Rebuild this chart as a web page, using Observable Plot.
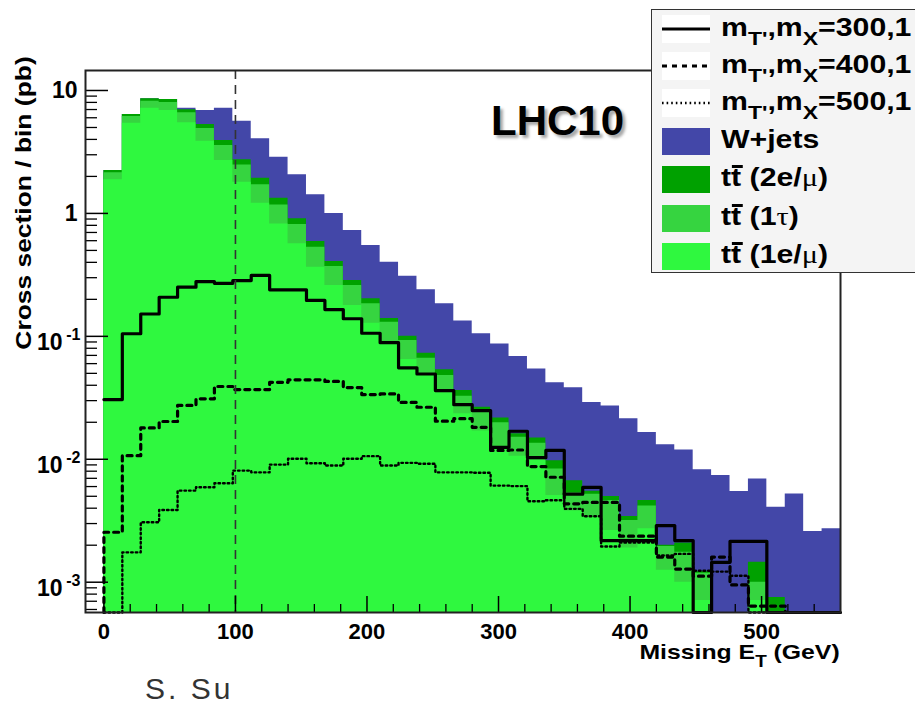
<!DOCTYPE html>
<html><head><meta charset="utf-8">
<script src="https://cdn.jsdelivr.net/npm/d3@7"></script>
<script src="https://cdn.jsdelivr.net/npm/@observablehq/plot@0.6"></script>
<style>
body{margin:0;background:#fff;}
#wrap{position:relative;width:915px;height:704px;overflow:hidden;font-family:"Liberation Sans",Arial,sans-serif;background:#fff;}
#wrap svg{position:absolute;left:0;top:0;}
.abs{position:absolute;white-space:nowrap;}
#legend{position:absolute;left:651px;top:9px;width:300px;height:264px;background:#f4f4f4;border:1.5px solid #333;box-sizing:border-box;}
.sym{position:absolute;left:10px;width:48px;}
.lt{position:absolute;left:69px;font-weight:bold;font-size:25px;line-height:30px;white-space:nowrap;transform:scaleX(1.21);transform-origin:left center;}
.lt sub{font-size:19px;vertical-align:-9px;line-height:0;}
.gr{font-family:"Liberation Serif","DejaVu Serif",serif;font-weight:normal;}
.tb{position:relative;display:inline-block;}
.tb i{position:absolute;left:1px;right:-1px;top:3px;height:2.5px;background:#000;}
</style></head><body><div id="wrap"></div>
<script>
// bin lower edges (GeV), width 14 GeV
const binStart = [0,14,28,42,56,70,84,98,112,126,140,154,168,182,196,210,224,238,252,266,280,294,308,322,336,350,364,378,392,406,420,434,448,462,476,490,504,518,532,546];
const binWidth = 14;
// stacked backgrounds (pb / bin), bottom to top
const ttLep   = [1.88,5.42,7.18,6.87,5.46,3.87,2.69,1.79,1.21,0.822,0.566,0.365,0.259,0.178,0.128,0.0896,0.0647,0.0486,0.0347,0.0235,0.0170,0.0121,0.0106,0.0098,0.00507,0.0038,0.00337,0.00263,0.0019,0.00272,0.00125,0.0010,0.00071,0,0,0.00071,0,0,0,0];
const ttTau   = [0.26,0.72,1.00,1.11,1.12,1.04,0.88,0.69,0.50,0.348,0.247,0.166,0.111,0.081,0.056,0.0404,0.0278,0.0178,0.0133,0.0091,0.0071,0.0077,0.0045,0.0037,0.00328,0.00155,0.00183,0.00198,0.00128,0.00144,0.0007,0.00075,0.00047,0,0,0.00029,0,0,0,0];
const ttDilep = [0.09,0.24,0.37,0.47,0.38,0.37,0.35,0.25,0.22,0.16,0.091,0.059,0.036,0.025,0.018,0.010,0.0075,0.0065,0.0054,0.0036,0.0024,0.0019,0.0010,0.0014,0.0014,0.00135,0.0003,0.00037,0.00024,0.00045,0.00005,0.00033,0.00004,0,0,0.00045,0.00075,0,0,0];
const wJets   = [0,0,0,0,0.22,1.59,3.26,2.89,2.11,1.53,1.156,0.83,0.594,0.442,0.346,0.261,0.208,0.166,0.1306,0.0968,0.0785,0.065,0.0524,0.0394,0.0321,0.0314,0.0234,0.0222,0.0179,0.0119,0.0111,0.0098,0.0070,0.00737,0.00546,0.00547,0.00332,0.00523,0.00258,0.00272];
// signals (not stacked)
const sig300 = [0.0306,0.105,0.152,0.208,0.251,0.279,0.270,0.284,0.313,0.239,0.239,0.196,0.165,0.139,0.106,0.0888,0.0555,0.0494,0.0362,0.0278,0.0249,0.0125,0.0169,0.0103,0.0118,0.0052,0.0059,0.00218,0.00218,0.00218,0.00289,0.00218,0,0.00145,0.00215,0.00215,0,0,0,0];
const sig400 = [0.00255,0.0107,0.0180,0.0203,0.0274,0.0310,0.0391,0.0369,0.0369,0.0423,0.0443,0.0443,0.0430,0.0383,0.0336,0.0340,0.0290,0.0265,0.0204,0.0214,0.0182,0.0118,0.0119,0.00873,0.00714,0.00434,0.00446,0.00446,0.00237,0.00237,0.0016,0.00128,0.00112,0.0016,0.00095,0.00064,0.00064,0,0,0];
const sig500 = [0,0.00175,0.00307,0.00387,0.00556,0.00592,0.00638,0.00809,0.00783,0.00905,0.0101,0.00929,0.00889,0.0101,0.0106,0.00889,0.00935,0.0092,0.00783,0.00783,0.00776,0.00611,0.00605,0.00455,0.00464,0.00395,0.00344,0.00195,0.0021,0.0021,0.00165,0.0017,0.00124,0.00122,0.00113,0,0,0,0,0];
// axis ticks
const xTickVals = [0,100,200,300,400,500];
const xTickLabels = ["0","100","200","300","400","500"];
const yTickVals = [10,1,0.1,0.01,0.001];
const yTickBase = ["10","1","10","10","10"];
const yTickExp  = ["","","-1","-2","-3"];
const cutLine = [100];
const stackColors = ["#2ff83f","#36d440","#00a100","#4347a8"];

const FLOOR = 1e-5;
let acc = binStart.map(() => 0);
const stack = [ttLep, ttTau, ttDilep, wJets].map(arr => (acc = acc.map((a, i) => a + arr[i])));
const last = binStart.length - 1;
const edgePts = binStart.map((x, i) => ({x, i})).concat([{x: binStart[last] + binWidth, i: last}]);
const linePts = (sig, fromFloor) => (fromFloor ? [{x: binStart[0], v: FLOOR}] : [])
  .concat(binStart.map((x, i) => ({x, v: Math.max(sig[i], FLOOR)})))
  .concat([{x: binStart[last] + binWidth, v: Math.max(sig[last], FLOOR)}]);

const xMinor = [];
for (let v = 20; v < 560; v += 20) if (v % 100) xMinor.push(v);
const yMinor = [];
for (let e = -4; e <= 1; e++) for (let k = 2; k <= 9; k++) { const v = k * Math.pow(10, e); if (v > 5.67e-4 && v < 14.5) yMinor.push(v); }

const W = 915, H = 704, mL = 85, mR = 75, mT = 70, mB = 92;
const fw = W - mL - mR, fh = H - mT - mB;

const areas = [3, 2, 1, 0].map(k => Plot.areaY(edgePts, {
  x: "x", y1: FLOOR, y2: d => Math.max(stack[k][d.i], FLOOR), curve: "step-after", fill: stackColors[k]
}));

const plot = Plot.plot({
  width: W, height: H,
  marginLeft: mL, marginRight: mR, marginTop: mT, marginBottom: mB,
  x: {domain: [-14, 560], axis: null},
  y: {type: "log", domain: [5.67e-4, 14.54], clamp: true, axis: null},
  style: {background: "transparent", fontFamily: "Liberation Sans, Arial, sans-serif", overflow: "visible"},
  marks: [
    ...areas,
    Plot.line(linePts(sig300, false), {x: "x", y: "v", curve: "step-after", stroke: "#000", strokeWidth: 3.2}),
    Plot.line(linePts(sig400, true), {x: "x", y: "v", curve: "step-after", stroke: "#000", strokeWidth: 3.2, strokeDasharray: "5,5"}),
    Plot.line(linePts(sig500, true), {x: "x", y: "v", curve: "step-after", stroke: "#000", strokeWidth: 2.4, strokeDasharray: "1.6,3"}),
    Plot.ruleX(cutLine, {stroke: "#333", strokeWidth: 1.6, strokeDasharray: "9,6"}),
    Plot.tickX(xTickVals, {x: d => d, insetTop: fh - 16, stroke: "#000", strokeWidth: 1.5}),
    Plot.tickX(xMinor, {x: d => d, insetTop: fh - 8, stroke: "#000", strokeWidth: 1.3}),
    Plot.tickY(yTickVals, {y: d => d, insetRight: fw - 23, stroke: "#000", strokeWidth: 1.5}),
    Plot.tickY(yMinor, {y: d => d, insetRight: fw - 12, stroke: "#000", strokeWidth: 1.3}),
    Plot.frame({stroke: "#222", strokeWidth: 2}),
    Plot.text(xTickVals, {x: d => d, text: (d, i) => xTickLabels[i], frameAnchor: "bottom", dy: 19, fontSize: 22, fontWeight: "bold", fill: "#000", lineAnchor: "middle"}),
    Plot.text(yTickVals, {filter: (d, i) => yTickExp[i] === "", y: d => d, text: (d, i) => yTickBase[i], frameAnchor: "left", textAnchor: "end", dx: -8, fontSize: 23, fontWeight: "bold", fill: "#000", lineAnchor: "middle"}),
    Plot.text(yTickVals, {filter: (d, i) => yTickExp[i] !== "", y: d => d, text: (d, i) => yTickBase[i], frameAnchor: "left", textAnchor: "end", dx: -23, dy: 6, fontSize: 23, fontWeight: "bold", fill: "#000", lineAnchor: "middle"}),
    Plot.text(yTickVals, {filter: (d, i) => yTickExp[i] !== "", y: d => d, text: (d, i) => yTickExp[i], frameAnchor: "left", textAnchor: "end", dx: -5, dy: -1, fontSize: 16, fontWeight: "bold", fill: "#000", lineAnchor: "middle"})
  ]
});
const wrap = document.getElementById("wrap");
wrap.appendChild(plot);

// titles
const add = (html, css) => { const d = document.createElement("div"); d.className = "abs"; d.style.cssText = css; d.innerHTML = html; wrap.appendChild(d); return d; };
add("Cross section / bin (pb)", "left:24px;top:203px;transform:translate(-50%,-50%) rotate(-90deg) scaleX(1.2);font-weight:bold;font-size:22px;color:#000;line-height:26px;");
add('Missing E<sub style="font-size:16px;vertical-align:-8px;line-height:0">T</sub> (GeV)', "right:75px;top:640px;font-weight:bold;font-size:21px;color:#000;line-height:24px;transform:scaleX(1.18);transform-origin:right center;");
add("LHC10", "left:491px;top:98px;font-weight:bold;font-size:42px;color:#000;text-shadow:3px 3px 3px rgba(0,0,0,0.35);line-height:46px;");
add("S. Su", "left:145px;top:672px;font-size:30px;color:#333;letter-spacing:3px;line-height:34px;");

// legend
const legendLabels = [
  "m<sub>T'</sub>,m<sub>X</sub>=300,1",
  "m<sub>T'</sub>,m<sub>X</sub>=400,1",
  "m<sub>T'</sub>,m<sub>X</sub>=500,1",
  "W+jets",
  't<span class="tb">t<i></i></span> (2e/<span class="gr">μ</span>)',
  't<span class="tb">t<i></i></span> (1<span class="gr">τ</span>)',
  't<span class="tb">t<i></i></span> (1e/<span class="gr">μ</span>)'
];
const legendStyle = ["solid", "dashed", "dotted", 3, 2, 1, 0];
const rowCenters = [19, 56, 93, 131, 169, 208, 246];
const lg = document.createElement("div"); lg.id = "legend"; wrap.appendChild(lg);
legendLabels.forEach((lab, r) => {
  const c = rowCenters[r];
  const s = document.createElement("div"); s.className = "sym";
  const st = legendStyle[r];
  if (typeof st === "number") {
    s.style.cssText += `top:${c - 13}px;height:27px;background:${stackColors[st]};`;
  } else {
    s.style.cssText += `top:${c - 14}px;height:28px;background:#fff;`;
    const ln = document.createElementNS("http://www.w3.org/2000/svg", "svg");
    ln.setAttribute("width", "48"); ln.setAttribute("height", "28");
    ln.style.position = "absolute"; ln.style.left = "0"; ln.style.top = "0";
    const dash = st === "solid" ? "" : st === "dashed" ? "5,5" : "1.6,3";
    ln.innerHTML = `<line x1="0" x2="48" y1="14" y2="14" stroke="#000" stroke-width="${st === "dotted" ? 2.4 : 3.2}" ${dash ? `stroke-dasharray="${dash}"` : ""}/>`;
    s.appendChild(ln);
  }
  lg.appendChild(s);
  const t = document.createElement("div"); t.className = "lt";
  t.style.top = (c - 17) + "px";
  t.innerHTML = lab;
  lg.appendChild(t);
});
</script></body></html>
